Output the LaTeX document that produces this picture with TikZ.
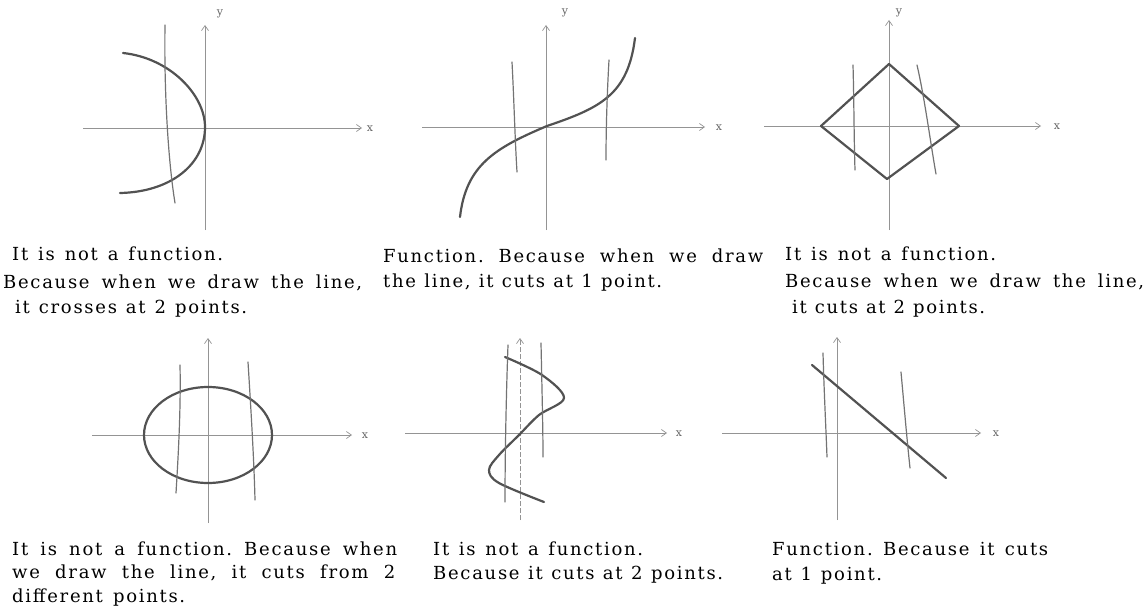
\documentclass[tikz,border=0pt]{standalone}
\usepackage{fontspec}
\setmainfont{DejaVu Serif}[LetterSpace=9.5]
\usetikzlibrary{arrows.meta}
\frenchspacing
\begin{document}
\begin{tikzpicture}[x=1pt,y=-1pt,
  axis/.style={draw=black!42, line width=0.7pt, -{Straight Barb[length=5pt,width=7pt]}},
  curve/.style={draw=black!68, line width=2.2pt, line cap=round, line join=round},
  vline/.style={draw=black!55, line width=1.2pt, line cap=round},
  lbl/.style={text=black!60, font=\fontsize{11}{13}\selectfont, inner sep=0pt},
  txt/.style={anchor=base west, inner sep=0pt, font=\fontsize{18}{22}\selectfont\frenchspacing}]
\useasboundingbox (0,0) rectangle (1146,615);
% ---------- graph 1 (top left) ----------
\draw[axis] (83,128) -- (362,128);
\node[lbl] (x1) at (370,129) {x};
\draw[axis] (205,230) -- (205,25);
\node[lbl] (y1) at (220,14) {y};
\draw[curve] (123,53) .. controls (170,58) and (205,95) .. (205,127) .. controls (205,165) and (170,192) .. (120,193);
\draw[vline] (165,25) .. controls (164,90) and (168,160) .. (175,203);
% ---------- graph 2 (top middle) ----------
\draw[axis] (422,127) -- (705,127);
\node[lbl] (x2) at (719,128) {x};
\draw[axis] (546,230) -- (546,25);
\node[lbl] (y2) at (565,13) {y};
\draw[curve] (460,217) .. controls (466,165) and (495,148) .. (547,126) .. controls (600,108) and (628,95) .. (635,38);
\draw[vline] (512,62) .. controls (514,100) and (515,140) .. (517,172);
\draw[vline] (609,60) .. controls (607,95) and (606,130) .. (606,160);
% ---------- graph 3 (top right) ----------
\draw[axis] (764,126) -- (1041,126);
\node[lbl] (x3) at (1057,127) {x};
\draw[axis] (889,230) -- (889,20);
\node[lbl] (y3) at (899,13) {y};
\draw[curve] (889,64) -- (959,126) -- (887,179) -- (821,126) -- cycle;
\draw[vline] (853,65) .. controls (854,100) and (854,140) .. (855,170);
\draw[vline] (917,65) .. controls (925,100) and (930,140) .. (936,174);
% ---------- graph 4 (bottom left) ----------
\draw[axis] (92,435) -- (352,435);
\node[lbl] (x4) at (365,436) {x};
\draw[axis] (208,523) -- (208,338);
\draw[curve] (208,435) ellipse [x radius=64pt, y radius=48pt];
\draw[vline] (180,365) .. controls (181,410) and (178,460) .. (176,493);
\draw[vline] (248,362) .. controls (251,410) and (254,460) .. (255,500);
% ---------- graph 5 (bottom middle) ----------
\draw[axis] (405,433) -- (667,433);
\node[lbl] (x5) at (679,434) {x};
\draw[axis, dash pattern=on 5pt off 2pt] (520,520) -- (520,338);
\draw[curve] plot[smooth, tension=0.55] coordinates {(505,357) (542,375) (564,398) (539,415) (519,435) (499,455) (489,470) (499,483) (544,502)};
\draw[vline] (508,345) .. controls (506,400) and (505,460) .. (505,502);
\draw[vline] (541,343) .. controls (542,390) and (543,430) .. (543,457);
% ---------- graph 6 (bottom right) ----------
\draw[axis] (722,433) -- (981,433);
\node[lbl] (x6) at (996,434) {x};
\draw[axis] (837,520) -- (837,337);
\draw[curve] (812,365) -- (946,478);
\draw[vline] (823,353) .. controls (824,390) and (826,430) .. (827,457);
\draw[vline] (901,372) .. controls (904,405) and (907,440) .. (910,468);
% ---------- texts ----------
\node[txt] (t1a) at (12,260) {\makebox[211pt][s]{It is not a function.}};
\node[txt] (t1b) at (3,288) {\makebox[359pt][s]{Because when we draw the line,}};
\node[txt] (t1c) at (15,313) {\makebox[232pt][s]{it crosses at 2 points.}};
\node[txt] (t2a) at (383,262) {\makebox[380pt][s]{Function. Because when we draw}};
\node[txt] (t2b) at (383,287) {\makebox[279pt][s]{the line, it cuts at 1 point.}};
\node[txt] (t3a) at (785,260) {\makebox[211pt][s]{It is not a function.}};
\node[txt] (t3b) at (785,287) {\makebox[359pt][s]{Because when we draw the line,}};
\node[txt] (t3c) at (792,313) {\makebox[193pt][s]{it cuts at 2 points.}};
\node[txt] (t4a) at (12,555) {\makebox[385pt][s]{It is not a function. Because when}};
\node[txt] (t4b) at (12,578) {\makebox[383pt][s]{we draw the line, it cuts from 2}};
\node[txt] (t4c) at (12,602) {\makebox[173pt][s]{different points.}};
\node[txt] (t5a) at (433,555) {\makebox[210pt][s]{It is not a function.}};
\node[txt] (t5b) at (433,579) {\makebox[290pt][s]{Because it cuts at 2 points.}};
\node[txt] (t6a) at (772,555) {\makebox[276pt][s]{Function. Because it cuts}};
\node[txt] (t6b) at (772,580) {\makebox[110pt][s]{at 1 point.}};
\end{tikzpicture}
\end{document}
